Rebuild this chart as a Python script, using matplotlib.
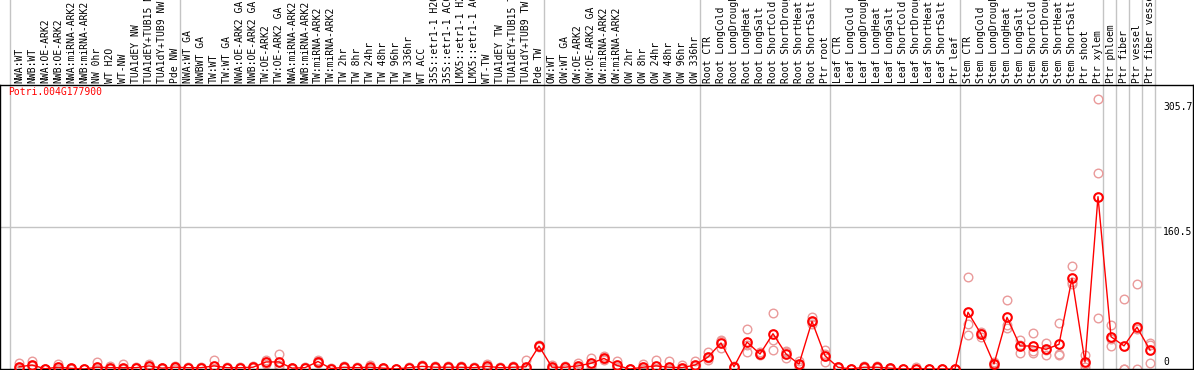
import matplotlib
matplotlib.use("Agg")
import matplotlib.pyplot as plt
import matplotlib.transforms as mtransforms

title = "Potri.004G177900"

categories = [
    "NWA:WT", "NWB:WT", "NWA:OE-ARK2", "NWB:OE-ARK2", "NWA:miRNA-ARK2", "NWB:miRNA-ARK2",
    "NW 0hr", "WT H2O", "WT-NW", "TUA1dEY NW", "TUA1dEY+TUB15 NW", "TUA1dY+TUB9 NW", "Pde NW",
    "NWA:WT GA", "NWBWT GA", "TW:WT", "TW:WT GA", "NWA:OE-ARK2 GA", "NWB:OE-ARK2 GA",
    "TW:OE-ARK2", "TW:OE-ARK2 GA", "NWA:miRNA-ARK2", "NWB:miRNA-ARK2", "TW:miRNA-ARK2",
    "TW:miRNA-ARK2", "TW 2hr", "TW 8hr", "TW 24hr", "TW 48hr", "TW 96hr", "TW 336hr",
    "WT ACC", "35S::etr1-1 H2O", "35S::etr1-1 ACC", "LMX5::etr1-1 H2O", "LMX5::etr1-1 ACC",
    "WT-TW", "TUA1dEY TW", "TUA1dEY+TUB15 TW", "TUA1dY+TUB9 TW", "Pde TW",
    "OW:WT", "OW:WT GA", "OW:OE-ARK2", "OW:OE-ARK2 GA", "OW:miRNA-ARK2", "OW:miRNA-ARK2",
    "OW 2hr", "OW 8hr", "OW 24hr", "OW 48hr", "OW 96hr", "OW 336hr",
    "Root CTR", "Root LongCold", "Root LongDrought", "Root LongHeat", "Root LongSalt",
    "Root ShortCold", "Root ShortDrought", "Root ShortHeat", "Root ShortSalt", "Ptr root",
    "Leaf CTR", "Leaf LongCold", "Leaf LongDrought", "Leaf LongHeat", "Leaf LongSalt",
    "Leaf ShortCold", "Leaf ShortDrought", "Leaf ShortHeat", "Leaf ShortSalt", "Ptr leaf",
    "Stem CTR", "Stem LongCold", "Stem LongDrought", "Stem LongHeat", "Stem LongSalt",
    "Stem ShortCold", "Stem ShortDrought", "Stem ShortHeat", "Stem ShortSalt", "Ptr shoot",
    "Ptr xylem", "Ptr phloem", "Ptr fiber", "Ptr vessel", "Ptr fiber vessel",
]

means = [
    2.5, 4.5, 0.3, 2.0, 0.8, 0.0, 2.0, 1.5, 1.5, 1.5, 3.5, 1.0, 2.0,
    1.5, 1.5, 3.5, 1.5, 1.5, 2.0, 8.0, 8.0, 1.0, 1.5, 8.5, 0.5, 2.0, 1.5, 2.0,
    1.0, 0.0, 1.5, 3.0, 2.0, 2.0, 2.0, 1.5, 3.0, 1.5, 2.0, 2.5, 26.0,
    2.0, 2.0, 3.5, 6.5, 12.0, 4.0, 0.0, 2.0, 3.5, 2.0, 1.5, 4.5,
    13.5, 29.5, 2.5, 30.5, 17.0, 40.0, 17.0, 5.5, 54.0, 15.0,
    2.0, 0.0, 2.0, 2.0, 1.0, 0.0, 0.5, 0.0, 0.0, 0.0,
    64.3, 39.7, 5.7, 58.6, 26.1, 26.1, 22.3, 28.0, 102.8, 7.9, 195.4,
    36.6, 26.2, 47.4, 21.5,
]

reps = [
    [7.0, 1.0, 0.0], [9.5, 3.5, 0.5], [0.5, 0.3, 0.0], [5.5, 0.5, 0.0], [1.5, 0.5, 0.3],
    [0.0, 0.0, 0.0], [8.0, 0.5, 0.0], [3.5, 1.0, 0.0], [5.5, 0.5, 0.0], [2.0, 1.5, 1.0],
    [5.5, 3.5, 1.5], [1.5, 1.0, 0.5], [3.5, 2.0, 0.5],
    [2.0, 1.5, 1.0], [2.0, 1.5, 1.0], [10.0, 0.5, 0.0], [2.0, 1.5, 1.0], [2.0, 1.5, 1.0],
    [3.0, 2.0, 1.0], [10.0, 8.0, 6.0], [17.0, 5.0, 2.0], [1.5, 1.0, 0.5], [2.0, 1.5, 1.0],
    [10.0, 9.0, 6.5], [1.0, 0.5, 0.0], [3.0, 2.0, 1.0], [2.0, 1.5, 1.0], [5.0, 1.0, 0.0],
    [1.5, 1.0, 0.5], [0.0, 0.0, 0.0], [2.0, 1.5, 1.0], [4.0, 3.0, 2.0], [3.0, 2.0, 1.0],
    [3.0, 2.0, 1.0], [3.0, 2.0, 1.0], [2.0, 1.5, 1.0], [6.0, 2.0, 1.0], [2.0, 1.5, 1.0],
    [3.0, 2.0, 1.0], [10.0, 0.5, 0.0], [27.0, 26.0, 25.0],
    [5.0, 1.0, 0.0], [3.5, 2.0, 0.5], [7.0, 2.5, 1.0], [13.0, 4.0, 2.5], [15.0, 11.0, 10.0],
    [9.0, 2.0, 1.0], [0.0, 0.0, 0.0], [6.0, 0.5, 0.0], [10.0, 0.5, 0.0], [9.0, 0.0, 0.0],
    [4.5, 0.5, 0.0], [9.0, 3.0, 1.0],
    [19.5, 12.0, 10.0], [31.5, 33.0, 23.5], [2.0, 3.0, 2.5], [45.5, 27.0, 19.0],
    [19.0, 16.5, 15.5], [63.0, 32.5, 21.5], [19.0, 20.0, 12.0], [9.0, 5.0, 2.5],
    [58.5, 53.0, 50.5], [21.0, 16.5, 7.5],
    [2.5, 2.0, 1.5], [0.0, 0.0, 0.0], [3.5, 1.5, 1.0], [3.5, 1.5, 1.0], [1.5, 1.0, 0.5],
    [0.0, 0.0, 0.0], [2.5, 0.0, 0.0], [0.0, 0.0, 0.0], [0.0, 0.0, 0.0], [0.0, 0.0, 0.0],
    [104.0, 50.6, 38.2], [42.3, 35.9, 41.0], [7.9, 1.9, 7.3], [78.2, 49.9, 46.1],
    [32.9, 18.5, 27.0], [40.4, 17.8, 20.0], [29.1, 15.9, 22.0], [51.8, 16.6, 15.6],
    [116.8, 99.0, 96.4], [15.5, 2.0, 6.2], [305.7, 222.0, 58.0],
    [49.9, 26.4, 33.5], [79.7, 0.0, 0.0], [96.8, 0.0, 45.4], [29.8, 27.2, 6.5],
]

# index of the last category in each block (a separator follows it)
block_ends = [12, 40, 52, 62, 72, 83, 84, 85, 86, 87]
ytick_values = [0, 160.5, 305.7]
ytop = 322.0

W, H = 1194, 370
fig = plt.figure(figsize=(W / 100, H / 100), dpi=100)
ax = fig.add_axes([0 / W, 1 / H, 1193 / W, 284 / H])

mono = "DejaVu Sans Mono"
step = 13.0
x0 = 19.0
ax.set_xlim(-x0 / step, (1193 - x0) / step)
ax.set_ylim(0, ytop)

xs = list(range(len(categories)))

# separators
sep_color = "#c4c4c4"
ext = 1 + 85 / 284
ax.axvline(-0.69, ymin=0, ymax=ext, color=sep_color, lw=1.0, clip_on=False, zorder=1)
for e in block_ends:
    ax.axvline(e + 0.38, ymin=0, ymax=ext, color=sep_color, lw=1.0, clip_on=False, zorder=1)

# mid gridline
ax.hlines(ytick_values[1], -x0 / step, (1161 - x0) / step, color=sep_color, lw=1.0, zorder=1)

# replicates
for i, r in enumerate(reps):
    ax.plot([i] * len(r), r, linestyle="none", marker="o", markersize=6.2,
            markerfacecolor="none", markeredgecolor="#ea9a9a", markeredgewidth=1.0, zorder=2)

# mean line
ax.plot(xs, means, color="#ff0000", lw=1.0, marker="o", markersize=6.2,
        markerfacecolor="none", markeredgecolor="#ff0000", markeredgewidth=1.5, zorder=3)

# spines
for s in ax.spines.values():
    s.set_color("black")
    s.set_linewidth(1.0)

# category labels on top
ax.xaxis.tick_top()
ax.set_xticks(xs)
ax.set_xticklabels(categories, rotation=90, fontfamily=mono, fontsize=7.0)
ax.tick_params(axis="x", length=0, pad=1.5)
ax.set_yticks([])

# y value labels inside on the right
blend = mtransforms.blended_transform_factory(fig.transFigure, ax.transData)
offsets = {0: 7, 160.5: -4.5, 305.7: -8}
for v in ytick_values:
    tr = mtransforms.offset_copy(blend, fig=fig, y=offsets[v], units="dots")
    lab = ("%g" % v)
    ax.text(1163 / W, v, lab, transform=tr, va="center", ha="left",
            fontfamily=mono, fontsize=7.0, color="black", zorder=4)

fig.text(8 / W, 1 - 87 / H, title, color="#ff0000", va="top", ha="left",
         fontfamily=mono, fontsize=7.0)

fig.savefig("out.png", dpi=100)
